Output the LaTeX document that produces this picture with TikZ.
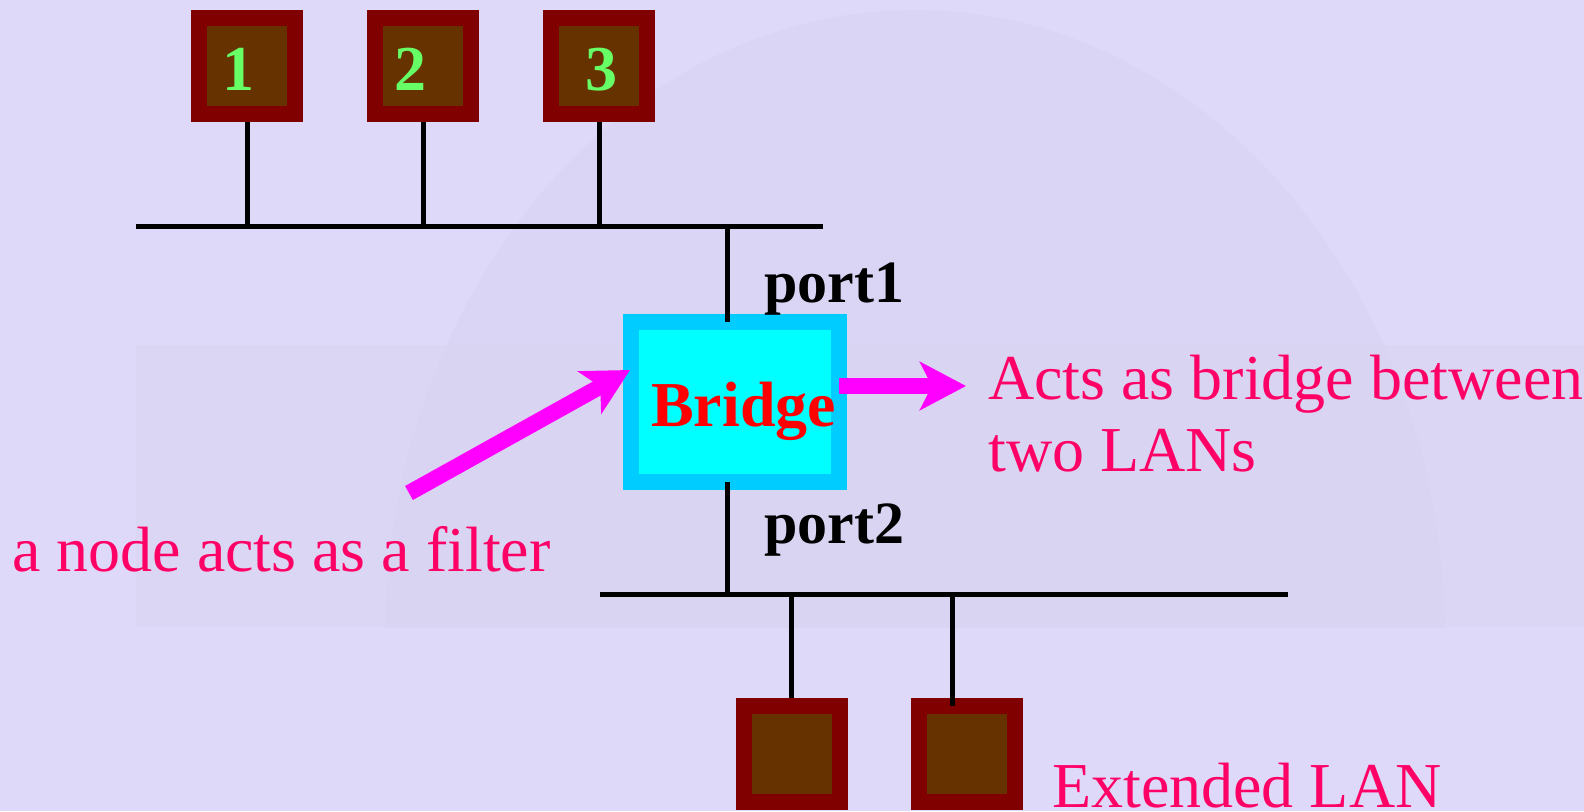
\documentclass[tikz,border=0pt]{standalone}
\usepackage{fontspec}
\setmainfont{Liberation Serif}
\usetikzlibrary{arrows.meta}
\definecolor{bg}{HTML}{DED9F9}
\definecolor{photo}{HTML}{D9D4F1}
\definecolor{dome}{HTML}{D9D4F3}
\definecolor{boxout}{HTML}{800000}
\definecolor{boxin}{HTML}{663300}
\definecolor{numgreen}{HTML}{66FF66}
\definecolor{brout}{HTML}{00CCFF}
\definecolor{brin}{HTML}{00FFFF}
\definecolor{pinktext}{HTML}{FF0066}
\definecolor{arrowmag}{HTML}{FF00FF}
\tikzset{
  station/.style={draw=boxout, fill=boxin, line width=16pt, minimum width=96pt, minimum height=96pt, inner sep=0pt},
  bus/.style={line width=5pt, black},
  stem/.style={line width=5pt, black},
  bignum/.style={font=\fontsize{64}{72}\selectfont\bfseries, text=numgreen, anchor=base west, inner sep=0pt},
  portlbl/.style={font=\fontsize{60}{68}\selectfont\bfseries, text=black, anchor=base west, inner sep=0pt},
  pinklbl/.style={font=\fontsize{64}{72}\selectfont, text=pinktext, anchor=base west, inner sep=0pt},
  magarrow/.style={line width=16pt, arrowmag, -{Stealth[length=46pt,width=48pt,inset=12pt]}}
}
\begin{document}
\begin{tikzpicture}[x=1pt,y=-1pt]
\useasboundingbox (0,0) rectangle (1584,811);
\fill[bg] (0,0) rectangle (1584,811);
% faint background photo
\begin{scope}
\clip (0,0) rectangle (1584,627);
\fill[dome, opacity=0.8] (915,640) ellipse [x radius=530, y radius=630];
\end{scope}
\fill[photo, opacity=0.5] (136,345) rectangle (1584,627);

% top stations
\node[station] (s1) at (247,66) {};
\node[station] (s2) at (423,66) {};
\node[station] (s3) at (599,66) {};
\node[bignum] (n1) at (222,90) {1};
\node[bignum] (n2) at (394,90) {2};
\node[bignum] (n3) at (585,90) {3};

% bus 1
\coordinate (b1l) at (136,226);
\coordinate (b1r) at (823,226);
\draw[bus] (b1l) -- (b1r);
\draw[stem] (s1.south) -- (s1.south |- b1l);
\draw[stem] (s2.south) -- (s2.south |- b1l);
\draw[stem] (s3.south) -- (s3.south |- b1l);

% bridge
\node[draw=brout, fill=brin, line width=16pt, minimum width=208pt, minimum height=160pt, inner sep=0pt] (br) at (735,402) {};
\node[font=\fontsize{64}{72}\selectfont\bfseries, text=red, anchor=base west, inner sep=0pt] (brt) at (651,426) {Bridge};
\coordinate (pt) at (727,322);
\coordinate (pb) at (727,482);
\draw[stem] (pt |- b1l) -- (pt);

% bus 2
\coordinate (b2l) at (600,594);
\coordinate (b2r) at (1288,594);
\draw[bus] (b2l) -- (b2r);
\draw[stem] (pb) -- (pb |- b2l);

% lower stations
\node[station] (s4) at (791.5,754) {};
\node[station] (s5) at (967,754) {};
\coordinate (s5top) at (952,706);
\draw[stem] (s4.north) -- (s4.north |- b2l);
\draw[stem] (s5top) -- (s5top |- b2l);

% labels
\node[portlbl] (p1) at (764,302) {port1};
\node[portlbl] (p2) at (764,543) {port2};
\node[pinklbl] (t1) at (988,399) {Acts as bridge between};
\node[pinklbl] (t2) at (988,471) {two LANs};
\node[pinklbl] (t3) at (12,571) {a node acts as a filter};
\node[pinklbl] (t4) at (1052,807) {Extended LAN};

% arrows
\coordinate (a1s) at (409,493);
\coordinate (a1e) at (630,370);
\draw[magarrow] (a1s) -- (a1e);
\coordinate (a2s) at (839,386);
\coordinate (a2e) at (966,386);
\draw[magarrow] (a2s) -- (a2e);
\end{tikzpicture}
\end{document}
